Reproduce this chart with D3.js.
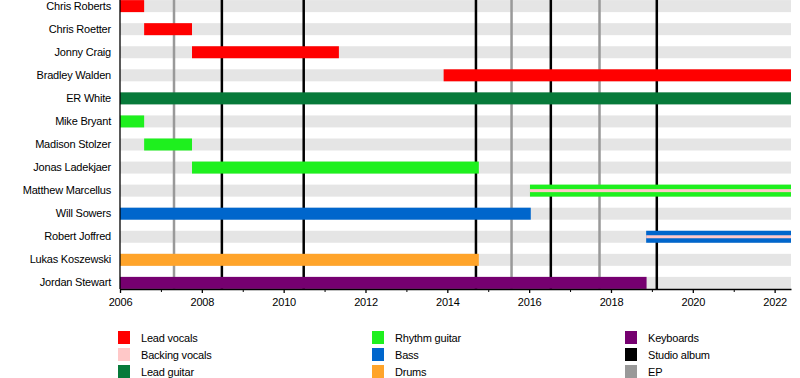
<!DOCTYPE html>
<html>
<head>
<meta charset="utf-8">
<script src="https://cdn.jsdelivr.net/npm/d3@7"></script>
<style>
  body { margin: 0; background: #fff; }
  svg text { font-family: "Liberation Sans", Arial, sans-serif; font-size: 11px; fill: #000; letter-spacing: -0.2px; }
</style>
</head>
<body>
<svg id="chart" width="800" height="378"></svg>
<script>
// members, top to bottom
var members = ['Chris Roberts', 'Chris Roetter', 'Jonny Craig', 'Bradley Walden', 'ER White',
  'Mike Bryant', 'Madison Stolzer', 'Jonas Ladekjaer', 'Matthew Marcellus', 'Will Sowers',
  'Robert Joffred', 'Lukas Koszewski', 'Jordan Stewart'];

// role of each stint, start and end (decimal years)
var stintMember = ['Chris Roberts', 'Chris Roetter', 'Jonny Craig', 'Bradley Walden', 'ER White',
  'Mike Bryant', 'Madison Stolzer', 'Jonas Ladekjaer', 'Matthew Marcellus', 'Will Sowers',
  'Robert Joffred', 'Lukas Koszewski', 'Jordan Stewart'];
var stintRole = ['vocals', 'vocals', 'vocals', 'vocals', 'lguitar', 'rguitar', 'rguitar', 'rguitar',
  'rguitar', 'bass', 'bass', 'drums', 'keys'];
var stintStart = [2006, 2006.59, 2007.76, 2013.91, 2006, 2006, 2006.59, 2007.76, 2016.02, 2006,
  2018.86, 2006, 2006];
var stintEnd = [2006.59, 2007.76, 2011.35, 2022.4, 2022.4, 2006.59, 2007.76, 2014.77, 2022.4,
  2016.04, 2022.4, 2014.77, 2018.87];
// secondary role drawn as a thin stripe inside the bar
var stintSecond = [null, null, null, null, null, null, null, null, 'bvocals', null, 'bvocals', null, null];

var studioAlbums = [2008.49, 2010.49, 2014.70, 2016.53, 2019.12];
var eps = [2007.32, 2015.57, 2017.72];

var roleKeys = ['vocals', 'bvocals', 'lguitar', 'rguitar', 'bass', 'drums', 'keys', 'album', 'ep'];
var roleNames = ['Lead vocals', 'Backing vocals', 'Lead guitar', 'Rhythm guitar', 'Bass', 'Drums',
  'Keyboards', 'Studio album', 'EP'];
var roleColors = ['#ff0000', '#ffc8c8', '#077a3a', '#1ef01e', '#0066cc', '#ffa42a', '#760070',
  '#000000', '#999999'];

var startYear = 2006, endYear = 2022.4;
var tickYears = [2006, 2008, 2010, 2012, 2014, 2016, 2018, 2020, 2022];

var margin = {top: 0, right: 9, bottom: 89, left: 120},
  width = 800 - margin.left - margin.right,
  height = 378 - margin.top - margin.bottom;

var color = d3.scaleOrdinal().domain(roleKeys).range(roleColors);

var x = d3.scaleLinear().domain([startYear, endYear]).range([0, width]);
var y = d3.scaleBand().domain(members).range([0, height]).paddingInner(0.47).paddingOuter(0.0);

var svg = d3.select('#chart');
var g = svg.append('g').attr('transform', 'translate(' + margin.left + ',' + margin.top + ')');

var bh = 12;
function rowY(m) { return y(m) + y.bandwidth() / 2 - bh / 2; }

// gray background rows
g.selectAll('.bg')
  .data(members)
  .enter().append('rect')
  .attr('class', 'bg')
  .attr('x', 0)
  .attr('y', function(d) { return rowY(d); })
  .attr('width', width)
  .attr('height', bh)
  .attr('fill', '#e5e5e5');

// release lines
g.selectAll('.ep')
  .data(eps)
  .enter().append('line')
  .attr('x1', function(d) { return x(d); })
  .attr('x2', function(d) { return x(d); })
  .attr('y1', 0).attr('y2', height)
  .attr('stroke', color('ep')).attr('stroke-width', 2.5);

g.selectAll('.album')
  .data(studioAlbums)
  .enter().append('line')
  .attr('x1', function(d) { return x(d); })
  .attr('x2', function(d) { return x(d); })
  .attr('y1', 0).attr('y2', height)
  .attr('stroke', color('album')).attr('stroke-width', 2.5);

// member bars
var idx = d3.range(stintMember.length);
g.selectAll('.bar')
  .data(idx)
  .enter().append('rect')
  .attr('class', 'bar')
  .attr('x', function(i) { return x(stintStart[i]); })
  .attr('y', function(i) { return rowY(stintMember[i]); })
  .attr('width', function(i) { return x(stintEnd[i]) - x(stintStart[i]); })
  .attr('height', bh)
  .attr('fill', function(i) { return color(stintRole[i]); });

g.selectAll('.second')
  .data(idx.filter(function(i) { return stintSecond[i]; }))
  .enter().append('rect')
  .attr('class', 'second')
  .attr('x', function(i) { return x(stintStart[i]); })
  .attr('y', function(i) { return rowY(stintMember[i]) + 4.5; })
  .attr('width', function(i) { return x(stintEnd[i]) - x(stintStart[i]); })
  .attr('height', 3)
  .attr('fill', function(i) { return color(stintSecond[i]); });

// axes
var xAxis = d3.axisBottom(x).tickValues(tickYears).tickFormat(d3.format('d')).tickSize(4).tickSizeOuter(0);
var xMinor = d3.axisBottom(x).tickValues(d3.range(2007, 2023, 2)).tickFormat('').tickSize(3).tickSizeOuter(0);

var ax = g.append('g').attr('class', 'x axis').attr('transform', 'translate(0,' + height + ')').call(xAxis);
g.append('g').attr('transform', 'translate(0,' + height + ')').call(xMinor).select('.domain').remove();
ax.selectAll('.tick text').attr('dy', '0.95em');

var yAxis = d3.axisLeft(y).tickSize(0).tickPadding(9);
var ay = g.append('g').attr('class', 'y axis').call(yAxis);
ay.select('.domain').attr('d', 'M0,0V' + height);
svg.selectAll('.axis text').style('font-size', '11px').style('font-family', '"Liberation Sans", Arial, sans-serif');
svg.selectAll('.axis .domain, .axis line').attr('stroke', '#000').attr('stroke-width', 1.3);

// legend, 3 columns
var legCols = [118, 372, 625], legRows = [331, 348, 365];
var leg = svg.append('g').selectAll('.leg')
  .data(roleKeys)
  .enter().append('g')
  .attr('transform', function(d, i) {
    return 'translate(' + legCols[Math.floor(i / 3)] + ',' + legRows[i % 3] + ')';
  });
leg.append('rect').attr('width', 12).attr('height', 13).attr('fill', function(d) { return color(d); });
leg.append('text').attr('x', 23).attr('y', 11).text(function(d, i) { return roleNames[i]; });
</script>
</body>
</html>
